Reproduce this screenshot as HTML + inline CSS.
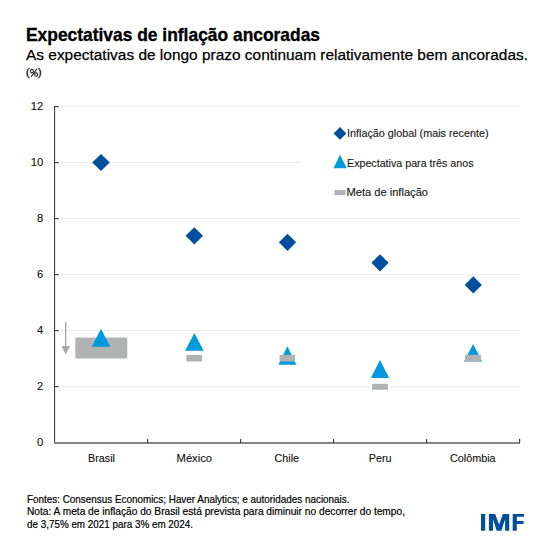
<!DOCTYPE html>
<html>
<head>
<meta charset="utf-8">
<style>
html,body{margin:0;padding:0;background:#fff;width:550px;height:550px;overflow:hidden}
svg{display:block}
text{font-family:"Liberation Sans",sans-serif}
</style>
</head>
<body>
<svg width="550" height="550" viewBox="0 0 550 550">
<rect x="0" y="0" width="550" height="550" fill="#fff"/>
<!-- titles -->
<text x="26" y="40.8" font-size="18.2" font-weight="bold" fill="#000" stroke="#000" stroke-width="0.35" textLength="294" lengthAdjust="spacingAndGlyphs">Expectativas de inflação ancoradas</text>
<text x="26" y="59.8" font-size="15.3" fill="#000" stroke="#000" stroke-width="0.25" textLength="502" lengthAdjust="spacingAndGlyphs">As expectativas de longo prazo continuam relativamente bem ancoradas.</text>
<g fill="#111" stroke="#111" stroke-width="0.3" font-size="11.8"><text x="25.8" y="76.1">(</text><text x="37.8" y="76.1">)</text></g><g fill="none" stroke="#222" stroke-width="1.05"><ellipse cx="31.9" cy="71.1" rx="1.45" ry="1.75"/><ellipse cx="36.1" cy="74.6" rx="1.45" ry="1.75"/><path d="M36.9 68.9 L31.1 76.9"/></g>

<!-- gridlines -->
<rect x="60" y="106" width="460" height="1" fill="#f3f3ef"/>
<g fill="#eeeeee">
<rect x="60" y="162" width="240" height="1"/>
<rect x="60" y="218" width="460" height="1"/>
<rect x="60" y="274" width="460" height="1"/>
<rect x="60" y="330" width="460" height="1"/>
<rect x="60" y="386" width="460" height="1.4"/>
</g>
<!-- y axis -->
<rect x="54" y="106" width="1.1" height="337" fill="#404040"/>
<g fill="#404040">
<rect x="54" y="106" width="4.7" height="1.2"/>
<rect x="54" y="162" width="4.7" height="1.2"/>
<rect x="54" y="218" width="4.7" height="1.2"/>
<rect x="54" y="274" width="4.7" height="1.2"/>
<rect x="54" y="330" width="4.7" height="1.2"/>
<rect x="54" y="386" width="4.7" height="1.2"/>
</g>
<!-- x axis -->
<rect x="54" y="442" width="466" height="2" fill="#858585"/>
<g fill="#404040">
<rect x="147" y="439" width="1.2" height="4"/>
<rect x="240" y="439" width="1.2" height="4"/>
<rect x="333" y="439" width="1.2" height="4"/>
<rect x="426" y="439" width="1.2" height="4"/>
<rect x="519" y="439" width="1.2" height="4"/>
</g>
<!-- y labels -->
<g font-size="11.2" fill="#111" stroke="#111" stroke-width="0.1" text-anchor="end">
<text x="43.3" y="110">12</text>
<text x="43.3" y="166">10</text>
<text x="43.3" y="222">8</text>
<text x="43.3" y="278">6</text>
<text x="43.3" y="334">4</text>
<text x="43.3" y="390">2</text>
<text x="43.3" y="446">0</text>
</g>
<!-- x labels -->
<g font-size="10.8" fill="#111" stroke="#111" stroke-width="0.12" text-anchor="middle">
<text x="101.5" y="461.7">Brasil</text>
<text x="194.3" y="461.7" textLength="35.5" lengthAdjust="spacingAndGlyphs">México</text>
<text x="286.8" y="461.7">Chile</text>
<text x="380.2" y="461.7">Peru</text>
<text x="472.8" y="461.7">Colômbia</text>
</g>

<!-- arrow -->
<rect x="65" y="322" width="1.3" height="26" fill="#a6a6a6"/>
<polygon points="61.5,346 70,346 65.7,354.5" fill="#a6a6a6"/>

<!-- markers -->
<g fill="#fff" stroke="#fff" stroke-width="2.2" stroke-linejoin="round">
<rect x="75.3" y="337.5" width="52" height="21"/>
<rect x="186.4" y="355" width="15.6" height="6.5"/>
<rect x="279.6" y="354.9" width="15.4" height="6.6"/>
<rect x="372" y="383.8" width="16" height="6"/>
<rect x="465.1" y="354.8" width="15.8" height="6.7"/>
<polygon points="101,328.8 110.25,346.7 91.75,346.7"/>
<polygon points="194.4,333.1 203.70000000000002,350.8 185.1,350.8"/>
<polygon points="287.4,346.3 296.4,364.7 278.4,364.7"/>
<polygon points="380,360 389.15,377.9 370.85,377.9"/>
<polygon points="473.1,343.9 482.20000000000005,361.5 464.0,361.5"/>
<polygon points="101,154.0 109.8,162.5 101,171.0 92.2,162.5"/>
<polygon points="194.3,227.20000000000002 203.0,235.8 194.3,244.4 185.60000000000002,235.8"/>
<polygon points="287.5,233.70000000000002 296.1,242.3 287.5,250.9 278.9,242.3"/>
<polygon points="380,254.20000000000002 388.6,262.8 380,271.40000000000003 371.4,262.8"/>
<polygon points="473.3,276.29999999999995 481.90000000000003,284.9 473.3,293.5 464.7,284.9"/>
</g>
<rect x="75.3" y="337.5" width="52" height="21" fill="#b1b3b2"/>
<g fill="#009ADF">
<polygon points="101,328.8 110.25,346.7 91.75,346.7"/>
<polygon points="194.4,333.1 203.70000000000002,350.8 185.1,350.8"/>
<polygon points="287.4,346.3 296.4,364.7 278.4,364.7"/>
<polygon points="380,360 389.15,377.9 370.85,377.9"/>
<polygon points="473.1,343.9 482.20000000000005,361.5 464.0,361.5"/>
</g>
<g fill="#b1b3b2">
<rect x="186.4" y="355" width="15.6" height="6.5"/>
<rect x="279.6" y="354.9" width="15.4" height="6.6"/>
<rect x="372" y="383.8" width="16" height="6"/>
<rect x="465.1" y="354.8" width="15.8" height="6.7"/>
</g>
<g fill="#004E9C">
<polygon points="101,154.0 109.8,162.5 101,171.0 92.2,162.5"/>
<polygon points="194.3,227.20000000000002 203.0,235.8 194.3,244.4 185.60000000000002,235.8"/>
<polygon points="287.5,233.70000000000002 296.1,242.3 287.5,250.9 278.9,242.3"/>
<polygon points="380,254.20000000000002 388.6,262.8 380,271.40000000000003 371.4,262.8"/>
<polygon points="473.3,276.29999999999995 481.90000000000003,284.9 473.3,293.5 464.7,284.9"/>
</g>
<!-- legend -->
<polygon points="340,127.1 346.4,133.5 340,139.8 333.6,133.5" fill="#004E9C"/>
<text x="347" y="136.9" font-size="11.3" fill="#1a1a1a" stroke="#1a1a1a" stroke-width="0.15" textLength="141.5" lengthAdjust="spacingAndGlyphs">Inflação global (mais recente)</text>
<polygon points="340,154.7 346.8,168.2 333.5,168.2" fill="#009ADF"/>
<text x="347" y="166.9" font-size="11.3" fill="#1a1a1a" stroke="#1a1a1a" stroke-width="0.15" textLength="126.5" lengthAdjust="spacingAndGlyphs">Expectativa para três anos</text>
<rect x="334.4" y="190" width="11.2" height="5.1" fill="#b1b3b2"/>
<text x="346.5" y="195.9" font-size="11.3" fill="#1a1a1a" stroke="#1a1a1a" stroke-width="0.15" textLength="81.5" lengthAdjust="spacingAndGlyphs">Meta de inflação</text>

<!-- footer -->
<g font-size="10.5" fill="#000" stroke="#000" stroke-width="0.2">
<text x="27" y="502.7" textLength="322.5" lengthAdjust="spacingAndGlyphs">Fontes: Consensus Economics; Haver Analytics; e autoridades nacionais.</text>
<text x="27" y="515.3" textLength="378" lengthAdjust="spacingAndGlyphs">Nota: A meta de inflação do Brasil está prevista para diminuir no decorrer do tempo,</text>
<text x="27" y="527.8" textLength="166" lengthAdjust="spacingAndGlyphs">de 3,75% em 2021 para 3% em 2024.</text>
</g>
<!-- IMF -->
<g fill="#004E9C"><rect x="481" y="513.9" width="4.2" height="16.8"/><path d="M488.9 513.9 H495.2 L499.05 524.6 L502.9 513.9 H509.2 V530.7 H505.1 V519.3 L501.4 530.7 H496.7 L493 519.3 V530.7 H488.9 Z"/><path d="M512.7 513.9 H524 V516.8 H516.8 V521.1 H523.6 V523.9 H516.8 V530.7 H512.7 Z"/></g>
</svg>
</body>
</html>
